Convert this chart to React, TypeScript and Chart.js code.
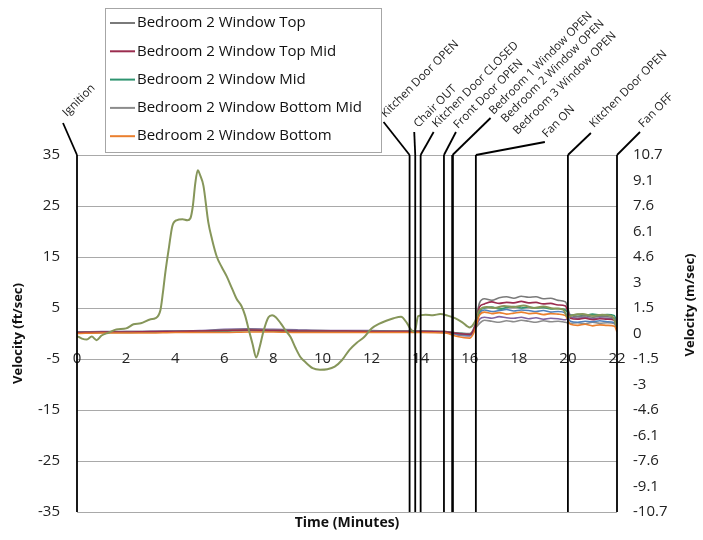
import React, { useEffect, useRef } from "react";
import { Chart, registerables } from "chart.js";

Chart.register(...registerables);

// ---------- DATA ----------
const seriesNames = [
  "Bedroom 2 Window Top",
  "Bedroom 2 Window Top Mid",
  "Bedroom 2 Window Mid",
  "Bedroom 2 Window Bottom Mid",
  "Bedroom 2 Window Bottom",
];

const timeMinutes = [
  0, 1, 2, 3, 4, 5, 6, 7, 8, 9, 10, 11, 12, 13, 14, 15, 15.5, 16.0, 16.2, 16.4,
  16.6, 16.9, 17.2, 17.5, 17.8, 18.1, 18.4, 18.7, 19.0, 19.3, 19.6, 19.9, 20.1, 20.4, 20.7, 21.0,
  21.3, 21.6, 21.9, 22.0,
];

const topValues = [
  0.3, 0.3, 0.4, 0.4, 0.5, 0.5, 0.7, 0.8, 0.7, 0.6, 0.6, 0.5, 0.5, 0.5, 0.5, 0.4, 0.1, 0.0, 1.5, 6.0,
  6.8, 6.5, 7.0, 7.2, 6.9, 7.3, 7.1, 7.2, 6.8, 6.9, 6.5, 6.2, 3.6, 3.3, 3.5, 3.2, 3.4, 3.3, 3.0, 1.0,
];
const topMidValues = [
  0.2, 0.3, 0.3, 0.4, 0.4, 0.5, 0.6, 0.7, 0.6, 0.5, 0.5, 0.5, 0.4, 0.4, 0.4, 0.3, 0.0, -0.2, 1.2, 5.2,
  5.8, 6.2, 5.9, 6.1, 6.0, 6.3, 6.0, 6.1, 5.8, 5.9, 5.6, 5.4, 3.0, 2.8, 3.0, 2.7, 2.9, 2.8, 2.6, 0.8,
];
const midValues = [
  0.1, 0.2, 0.2, 0.3, 0.3, 0.4, 0.5, 0.6, 0.5, 0.4, 0.4, 0.4, 0.4, 0.4, 0.4, 0.3, 0.1, -0.1, 1.0, 4.4,
  5.0, 5.2, 4.8, 5.1, 5.3, 5.0, 5.2, 5.0, 5.1, 4.8, 4.9, 4.6, 3.6, 3.7, 3.5, 3.8, 3.6, 3.7, 3.5, 1.2,
];
const bottomMidValues = [
  0.2, 0.2, 0.3, 0.3, 0.3, 0.4, 0.5, 0.6, 0.5, 0.4, 0.4, 0.4, 0.4, 0.3, 0.3, 0.2, -0.2, -0.4, 0.8, 2.0,
  2.6, 2.4, 2.2, 2.5, 2.3, 2.6, 2.4, 2.2, 2.5, 2.3, 2.4, 2.2, 2.0, 2.1, 1.9, 2.2, 2.0, 2.1, 1.9, 0.6,
];
const bottomValues = [
  0.0, 0.1, 0.1, 0.1, 0.2, 0.2, 0.2, 0.3, 0.3, 0.2, 0.2, 0.2, 0.2, 0.2, 0.2, 0.1, -0.6, -0.9, 0.5, 3.6,
  4.2, 3.9, 4.1, 3.8, 4.0, 4.2, 3.9, 4.0, 3.7, 3.9, 3.8, 3.5, 1.8, 1.6, 1.8, 1.5, 1.7, 1.6, 1.4, 0.3,
];
// other room sensors visible in the plot (not in the legend)
const blueValues = [
  0.3, 0.3, 0.3, 0.4, 0.4, 0.5, 0.6, 0.7, 0.6, 0.5, 0.5, 0.5, 0.5, 0.4, 0.4, 0.3, -0.1, -0.3, 1.0, 4.0,
  4.6, 4.3, 4.5, 4.7, 4.4, 4.6, 4.5, 4.3, 4.5, 4.2, 4.3, 4.0, 2.4, 2.2, 2.4, 2.3, 2.5, 2.3, 2.1, 0.7,
];
const purpleValues = [
  0.3, 0.4, 0.4, 0.4, 0.5, 0.6, 0.8, 0.9, 0.8, 0.7, 0.6, 0.6, 0.6, 0.5, 0.5, 0.4, -0.3, -0.5, 0.8, 2.8,
  3.2, 3.0, 3.3, 3.1, 3.0, 3.2, 2.9, 3.1, 2.8, 3.0, 2.9, 2.7, 3.2, 3.0, 3.2, 2.9, 3.1, 3.0, 2.8, 0.9,
];

const peakPoints: [number, number][] = [
  [0, -0.5], [0.2, -1.0], [0.4, -1.2], [0.6, -0.6], [0.8, -1.3], [1.0, -0.4], [1.3, 0.2], [1.6, 0.8],
  [2.0, 1.0], [2.3, 1.8], [2.6, 2.0], [3.0, 2.8], [3.2, 3.0], [3.4, 4.6], [3.5, 8.0], [3.6, 12.0],
  [3.75, 17.0], [3.88, 21.0], [4.05, 22.2], [4.3, 22.4], [4.5, 22.2], [4.62, 22.6], [4.72, 25.0],
  [4.82, 29.5], [4.92, 32.0], [5.02, 31.0], [5.15, 29.0], [5.35, 21.8], [5.5, 18.5], [5.7, 15.0],
  [5.9, 13.0], [6.1, 11.2], [6.3, 9.0], [6.5, 6.8], [6.7, 5.4], [6.85, 3.5], [7.0, 0.7], [7.15, -2.0],
  [7.3, -4.7], [7.45, -2.5], [7.6, 0.5], [7.8, 3.2], [7.95, 3.6], [8.1, 3.2], [8.3, 2.0], [8.5, 0.6],
  [8.7, -0.7], [8.9, -2.8], [9.1, -4.6], [9.3, -5.6], [9.6, -6.8], [9.9, -7.1], [10.2, -7.0],
  [10.5, -6.5], [10.8, -5.2], [11.1, -3.2], [11.4, -1.8], [11.7, -0.7], [12.0, 1.0], [12.3, 1.9],
  [12.6, 2.5], [12.9, 3.0], [13.2, 3.3], [13.45, 2.0], [13.6, 0.8], [13.75, 0.3], [13.9, 3.4],
  [14.2, 3.7], [14.5, 3.6], [14.8, 3.8], [15.1, 3.5], [15.4, 3.0], [15.7, 2.2], [16.0, 1.2],
  [16.2, 2.2], [16.4, 4.6], [16.7, 5.2], [17.0, 5.0], [17.4, 5.4], [17.8, 5.2], [18.2, 5.5],
  [18.6, 5.0], [19.0, 5.3], [19.4, 4.9], [19.8, 4.7], [20.0, 3.2], [20.2, 3.6], [20.6, 3.8],
  [21.0, 3.5], [21.4, 3.7], [21.8, 3.4], [22.0, 1.2],
];

const leftTickValues = [-35, -25, -15, -5, 5, 15, 25, 35];
const rightTickValues = [-35, -30, -25, -20, -15, -10, -5, 0, 5, 10, 15, 20, 25, 30, 35];
const rightTickLabels = [
  "-10.7", "-9.1", "-7.6", "-6.1", "-4.6", "-3", "-1.5", "0", "1.5", "3", "4.6", "6.1", "7.6", "9.1", "10.7",
];

const eventTimes = [0, 13.55, 13.78, 14.0, 14.95, 15.3, 15.3, 15.3, 16.25, 20, 22];
const eventLabels = [
  "Ignition",
  "Kitchen Door OPEN",
  "Chair OUT",
  "Kitchen Door CLOSED",
  "Front Door OPEN",
  "Bedroom 1 Window OPEN",
  "Bedroom 2 Window OPEN",
  "Bedroom 3 Window OPEN",
  "Fan ON",
  "Kitchen Door OPEN",
  "Fan OFF",
];

// ---------- LAYOUT / STYLE ----------
const FONT = "'Open Sans', 'DejaVu Sans', sans-serif";
const COLORS = {
  top: "#7a7a7a",
  topMid: "#9b2d4f",
  mid: "#2e9470",
  bottomMid: "#8c8c8c",
  bottom: "#ea7f2e",
  peak: "#86965a",
  blue: "#4f81bd",
  purple: "#8064a2",
};
const legendColors = [COLORS.top, COLORS.topMid, COLORS.mid, COLORS.bottomMid, COLORS.bottom];

// leader end offsets and label anchor offsets relative to (event x pixel, plot top)
const LEADERS: ([number, number] | null)[] = [
  [-14, -32], [-26, -33], [-1, -23], [13, -23], [12, -23], [38, -37], null, null, [69, -13], [23, -22], [23, -23],
];
const LABEL_ANCHORS: [number, number][] = [
  [-10, -38], [-24, -37], [3, -27], [16, -27], [14, -26], [41, -40], [53, -32], [65, -20], [71, -17], [26, -27], [26, -27],
];

const overlayPlugin = {
  id: "overlay",
  afterDatasetsDraw(chart: any) {
    const { ctx, chartArea, scales } = chart;
    const xs = scales.x;
    ctx.save();
    ctx.strokeStyle = "#000";
    ctx.lineWidth = 1.8;
    eventTimes.forEach((t, i) => {
      const px = xs.getPixelForValue(t);
      ctx.beginPath();
      ctx.moveTo(px, chartArea.top);
      ctx.lineTo(px, chartArea.bottom);
      ctx.stroke();
      const ld = LEADERS[i];
      if (ld) {
        ctx.beginPath();
        ctx.moveTo(px, chartArea.top);
        ctx.lineTo(px + ld[0], chartArea.top + ld[1]);
        ctx.stroke();
      }
    });
    ctx.fillStyle = "#222";
    ctx.font = `11.5px ${FONT}`;
    ctx.textAlign = "left";
    ctx.textBaseline = "alphabetic";
    eventTimes.forEach((t, i) => {
      const px = xs.getPixelForValue(t);
      const a = LABEL_ANCHORS[i];
      ctx.save();
      ctx.translate(px + a[0], chartArea.top + a[1]);
      ctx.rotate(-Math.PI / 4);
      ctx.fillText(eventLabels[i], 0, 0);
      ctx.restore();
    });
    ctx.restore();
  },
  afterDraw(chart: any) {
    const { ctx } = chart;
    ctx.save();
    // legend box
    ctx.fillStyle = "#fff";
    ctx.fillRect(105, 8, 276, 144);
    ctx.strokeStyle = "#a6a6a6";
    ctx.lineWidth = 1;
    ctx.strokeRect(105.5, 8.5, 276, 144);
    ctx.font = `15px ${FONT}`;
    ctx.textBaseline = "middle";
    ctx.textAlign = "left";
    seriesNames.forEach((name, i) => {
      const y = 23 + i * 28.3;
      ctx.strokeStyle = legendColors[i];
      ctx.lineWidth = 2;
      ctx.beginPath();
      ctx.moveTo(110, y);
      ctx.lineTo(135, y);
      ctx.stroke();
      ctx.fillStyle = "#111";
      ctx.fillText(name, 137, y);
    });
    // right axis title
    ctx.translate(690, 305);
    ctx.rotate(-Math.PI / 2);
    ctx.font = `bold 13px ${FONT}`;
    ctx.textAlign = "center";
    ctx.fillStyle = "#111";
    ctx.fillText("Velocity (m/sec)", 0, 0);
    ctx.restore();
  },
};

function toPoints(values: number[]) {
  return values.map((v, i) => ({ x: timeMinutes[i], y: v }));
}

export default function App() {
  const canvasRef = useRef<HTMLCanvasElement | null>(null);

  useEffect(() => {
    if (!canvasRef.current) return;
    const line = (label: string, data: any[], color: string, width = 1.6) => ({
      label,
      data,
      borderColor: color,
      backgroundColor: color,
      borderWidth: width,
      pointRadius: 0,
      fill: false,
      cubicInterpolationMode: "monotone" as const,
    });
    const tickFont = { family: FONT, size: 15 };
    const chart = new Chart(canvasRef.current, {
      type: "line",
      data: {
        datasets: [
          line("Peak", peakPoints.map(([x, y]) => ({ x, y })), COLORS.peak, 2),
          line(seriesNames[4], toPoints(bottomValues), COLORS.bottom),
          line(seriesNames[1], toPoints(topMidValues), COLORS.topMid),
          line(seriesNames[0], toPoints(topValues), COLORS.top),
          line(seriesNames[2], toPoints(midValues), COLORS.mid),
          line("Blue", toPoints(blueValues), COLORS.blue),
          line(seriesNames[3], toPoints(bottomMidValues), COLORS.bottomMid),
          line("Purple", toPoints(purpleValues), COLORS.purple),
        ],
      },
      options: {
        responsive: false,
        animation: false,
        layout: { padding: { top: 155, left: 0, right: 0, bottom: 0 } },
        plugins: { legend: { display: false }, tooltip: { enabled: false } },
        scales: {
          x: {
            type: "linear",
            min: 0,
            max: 22,
            position: { y: -5 } as any,
            ticks: { stepSize: 2, padding: -9, font: tickFont, color: "#222", maxRotation: 0, autoSkip: false },
            grid: { display: false, drawTicks: false },
            border: { display: false },
          },
          xt: {
            type: "linear",
            min: 0,
            max: 22,
            position: "bottom",
            ticks: { display: false },
            grid: { display: false, drawTicks: false },
            border: { display: false },
            title: {
              display: true,
              text: "Time (Minutes)",
              font: { family: FONT, size: 14, weight: "bold" },
              color: "#111",
              padding: { top: 0, bottom: 9 },
            },
            afterFit: (s: any) => {
              s.height = 28;
            },
          },
          y: {
            type: "linear",
            position: "left",
            min: -35,
            max: 35,
            afterBuildTicks: (s: any) => {
              s.ticks = leftTickValues.map((v) => ({ value: v }));
            },
            ticks: { padding: 17, font: tickFont, color: "#222" },
            grid: { color: "#a9a9a9", lineWidth: 1, drawTicks: false },
            border: { display: false },
            title: {
              display: true,
              text: "Velocity (ft/sec)",
              font: { family: FONT, size: 13, weight: "bold" },
              color: "#111",
              padding: { top: 10, bottom: 0 },
            },
            afterFit: (s: any) => {
              s.width = 77;
            },
          },
          y2: {
            type: "linear",
            position: "right",
            min: -35,
            max: 35,
            afterBuildTicks: (s: any) => {
              s.ticks = rightTickValues.map((v) => ({ value: v }));
            },
            ticks: {
              padding: 16,
              font: tickFont,
              color: "#222",
              callback: (_v: any, i: number) => rightTickLabels[i],
            },
            grid: { display: false, drawTicks: false },
            border: { display: false },
            afterFit: (s: any) => {
              s.width = 86;
            },
          },
        },
      } as any,
      plugins: [overlayPlugin],
    });
    return () => chart.destroy();
  }, []);

  return (
    <div style={{ position: "absolute", left: 0, top: 0, width: 703, height: 540, background: "#fff" }}>
      <canvas ref={canvasRef} width={703} height={540} style={{ display: "block" }} />
    </div>
  );
}
